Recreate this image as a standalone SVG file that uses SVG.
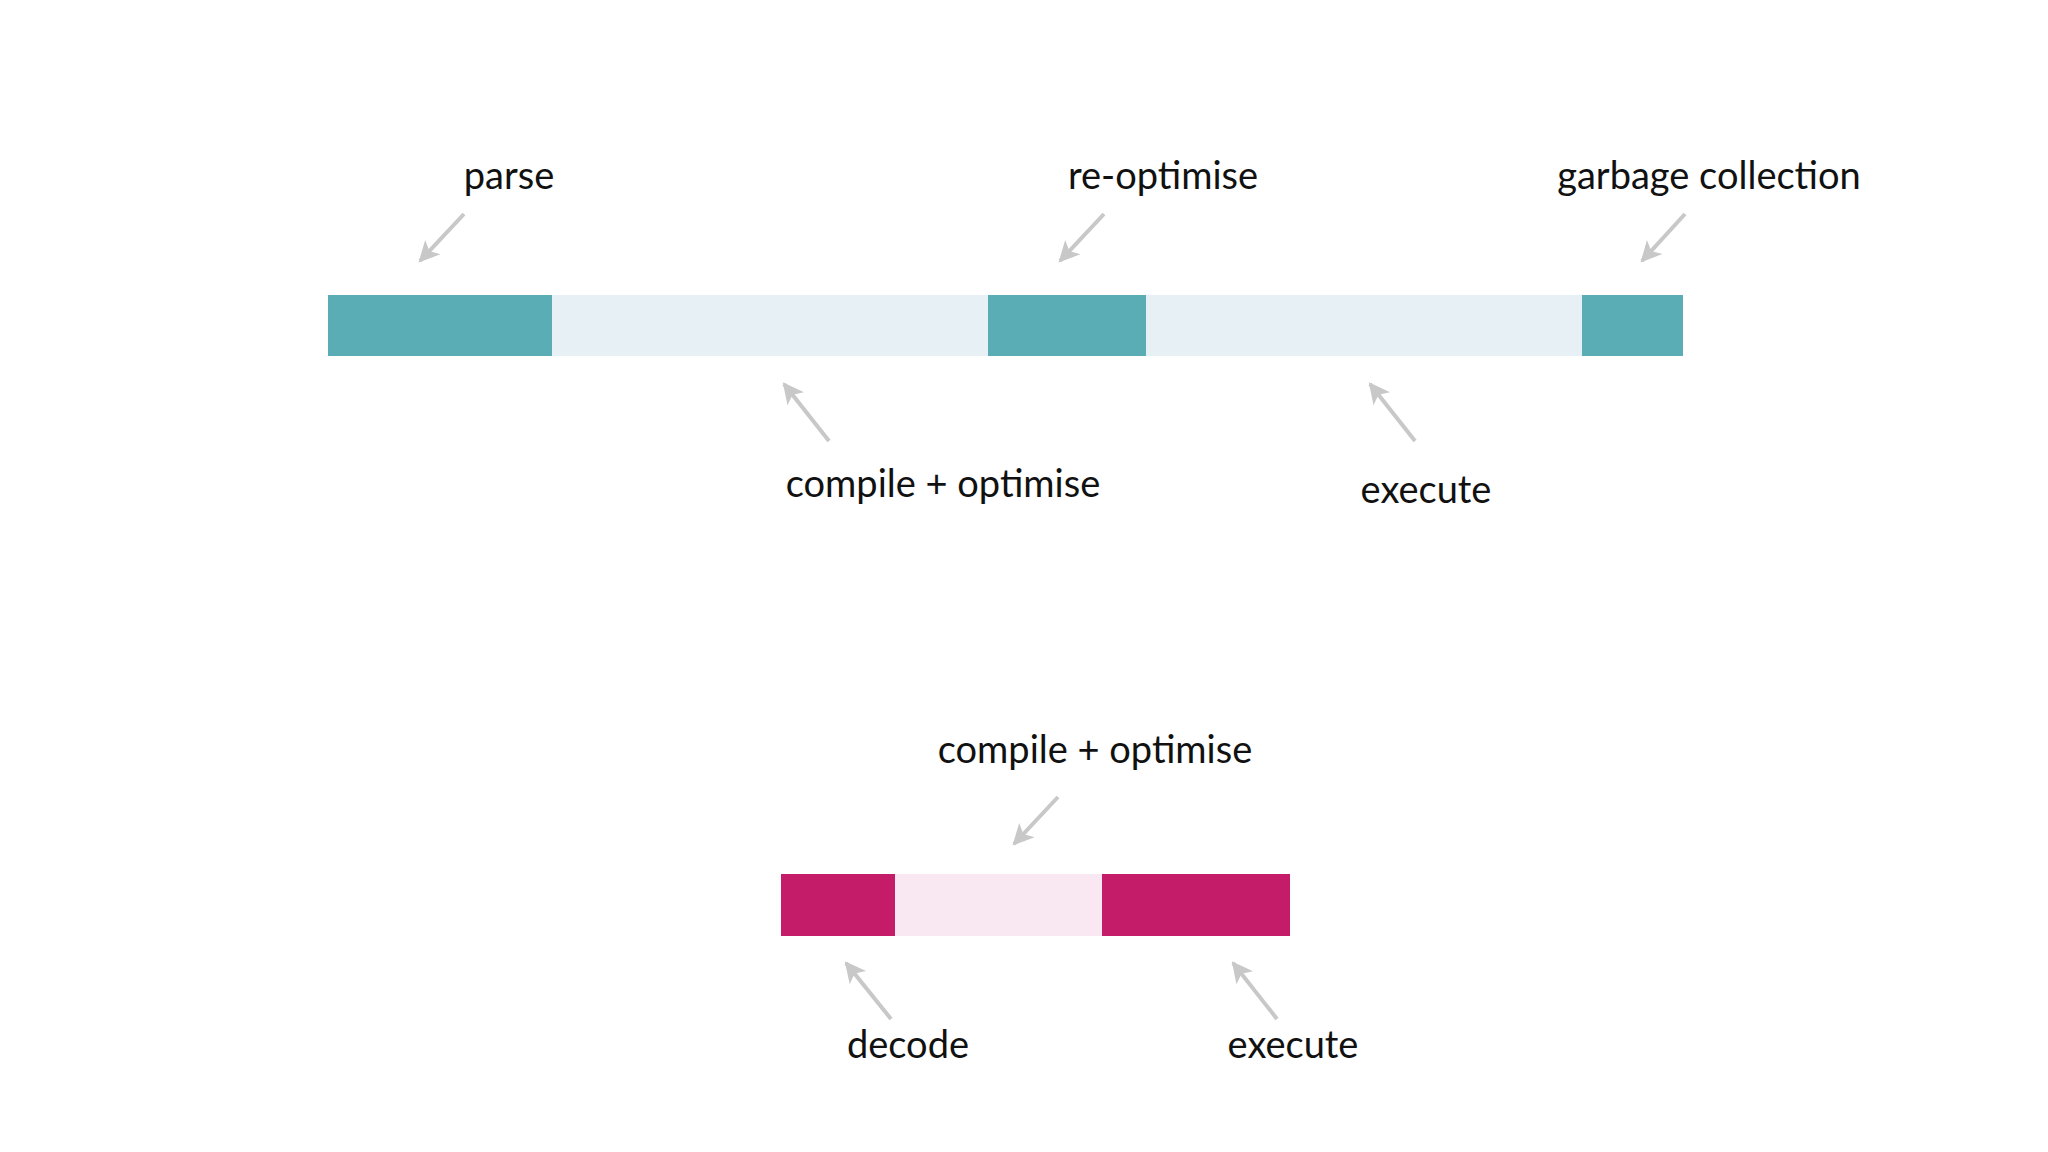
<svg xmlns="http://www.w3.org/2000/svg" width="2048" height="1152" viewBox="0 0 2048 1152">
<style>
text{font-family:Lato,"Noto Sans",sans-serif;font-size:38px;fill:#111;text-anchor:middle}
.a{stroke:#c8c8c8;stroke-width:4;fill:none;marker-end:url(#ah)}
.t{fill:#5badb5}.tl{fill:#e6f0f5}.m{fill:#c41c68}.ml{fill:#f9e8f1}
</style>
<defs><marker id="ah" viewBox="0 0 10 10" refX="9" refY="5" markerWidth="7" markerHeight="7" markerUnits="userSpaceOnUse" orient="auto" style="overflow:visible"><path d="M0,0 L10,5 L0,10 L2.5,5 z" fill="#c8c8c8" transform="scale(3) translate(-6,-3.3)"/></marker></defs>
<rect width="2048" height="1152" fill="#fff"/>
<g id="top-bar">
<rect class="t" x="328" y="295" width="224" height="61"/>
<rect class="tl" x="552" y="295" width="437" height="61"/>
<rect class="t" x="988" y="295" width="158" height="61"/>
<rect class="tl" x="1146" y="295" width="437" height="61"/>
<rect class="t" x="1582" y="295" width="101" height="61"/>
</g>
<g id="bottom-bar">
<rect class="m" x="781" y="874" width="114" height="62"/>
<rect class="ml" x="895" y="874" width="207" height="62"/>
<rect class="m" x="1102" y="874" width="188" height="62"/>
</g>
<g id="labels">
<text x="509" y="189">parse</text>
<text x="1163" y="189">re-optimise</text>
<text x="1709" y="189">garbage collection</text>
<text x="943" y="497">compile + optimise</text>
<text x="1426" y="503">execute</text>
<text x="1095" y="763">compile + optimise</text>
<text x="908" y="1058">decode</text>
<text x="1293" y="1058">execute</text>
</g>
<g id="connectors">
<path class="a" d="M464,214 L420,261"/>
<path class="a" d="M1104,214 L1060,261"/>
<path class="a" d="M1685,214 L1642,261"/>
<path class="a" d="M829,441 L784,384"/>
<path class="a" d="M1415,441 L1370,384"/>
<path class="a" d="M1058,797 L1014,844"/>
<path class="a" d="M891,1019 L846,963"/>
<path class="a" d="M1277,1019 L1233,963"/>
</g>
</svg>
